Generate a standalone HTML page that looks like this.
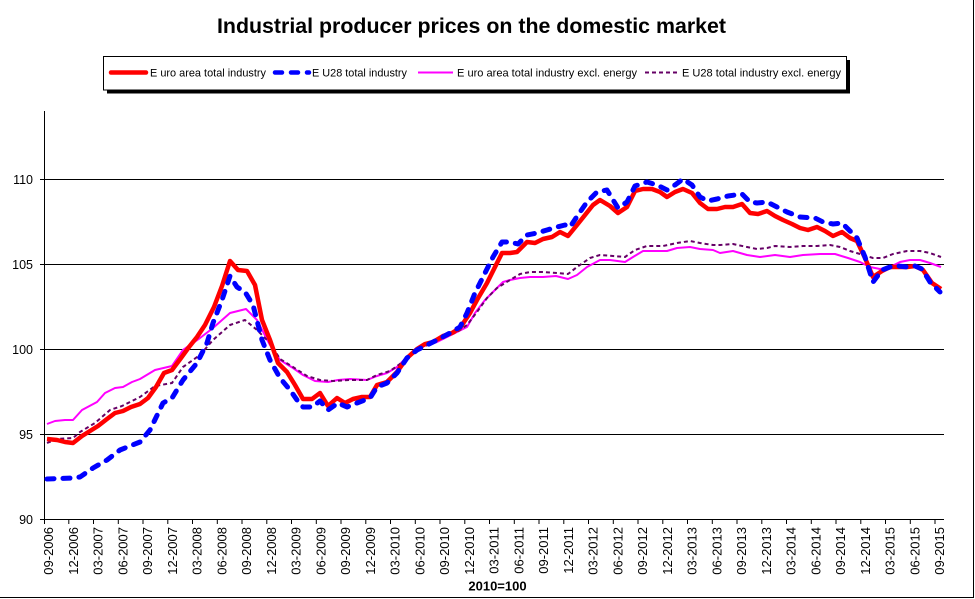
<!DOCTYPE html>
<html>
<head>
<meta charset="utf-8">
<style>
html,body{margin:0;padding:0;background:#fff;}
svg{display:block;}
text{font-family:"Liberation Sans",Arial,sans-serif;fill:#000;}
</style>
</head>
<body>
<svg width="975" height="599" viewBox="0 0 975 599" xmlns="http://www.w3.org/2000/svg">
<rect x="0" y="0" width="975" height="599" fill="#fff"/>
<!-- frame -->
<line x1="973.5" y1="0" x2="973.5" y2="598" stroke="#000" stroke-width="1"/>
<line x1="0" y1="597.5" x2="974" y2="597.5" stroke="#000" stroke-width="1"/>

<!-- title -->
<text x="217" y="33" font-size="21" font-weight="bold" textLength="509" lengthAdjust="spacingAndGlyphs">Industrial  producer prices on the domestic market</text>

<!-- legend -->
<rect x="107" y="60" width="743" height="33.5" fill="#000"/>
<rect x="103.5" y="56.5" width="743" height="33.5" fill="#fff" stroke="#000" stroke-width="1"/>
<line x1="111" y1="72.5" x2="146" y2="72.5" stroke="#ff0000" stroke-width="4.5" stroke-linecap="round"/>
<text x="150" y="76.5" font-size="11" textLength="116" lengthAdjust="spacingAndGlyphs">E uro area total industry</text>
<line x1="275" y1="72.5" x2="309" y2="72.5" stroke="#0000ff" stroke-width="4.5" stroke-linecap="round" stroke-dasharray="7 9"/>
<text x="312" y="76.5" font-size="11" textLength="95" lengthAdjust="spacingAndGlyphs">E U28 total industry</text>
<line x1="418" y1="72.5" x2="453" y2="72.5" stroke="#ff00ff" stroke-width="2"/>
<text x="457" y="76.5" font-size="11" textLength="180" lengthAdjust="spacingAndGlyphs">E uro area total industry excl. energy</text>
<line x1="645" y1="72.5" x2="680" y2="72.5" stroke="#660066" stroke-width="2" stroke-dasharray="4 3"/>
<text x="682" y="76.5" font-size="11" textLength="159" lengthAdjust="spacingAndGlyphs">E U28 total industry excl. energy</text>

<!-- gridlines -->
<g stroke="#000" stroke-width="1">
<line x1="40" y1="434.5" x2="944" y2="434.5"/>
<line x1="40" y1="349.5" x2="944" y2="349.5"/>
<line x1="40" y1="264.5" x2="944" y2="264.5"/>
<line x1="40" y1="179.5" x2="944" y2="179.5"/>
<line x1="40" y1="519.5" x2="944" y2="519.5"/>
<line x1="44.5" y1="111" x2="44.5" y2="520"/>
</g>

<!-- x ticks -->
<g stroke="#000" stroke-width="1">
<line x1="44.5" y1="519" x2="44.5" y2="524"/><line x1="68.8" y1="519" x2="68.8" y2="524"/><line x1="93.5" y1="519" x2="93.5" y2="524"/><line x1="118.3" y1="519" x2="118.3" y2="524"/><line x1="143" y1="519" x2="143" y2="524"/><line x1="167.8" y1="519" x2="167.8" y2="524"/><line x1="192.5" y1="519" x2="192.5" y2="524"/><line x1="217.3" y1="519" x2="217.3" y2="524"/><line x1="242" y1="519" x2="242" y2="524"/><line x1="266.8" y1="519" x2="266.8" y2="524"/><line x1="291.5" y1="519" x2="291.5" y2="524"/><line x1="316.3" y1="519" x2="316.3" y2="524"/><line x1="341" y1="519" x2="341" y2="524"/><line x1="365.8" y1="519" x2="365.8" y2="524"/><line x1="390.5" y1="519" x2="390.5" y2="524"/><line x1="415.3" y1="519" x2="415.3" y2="524"/><line x1="440" y1="519" x2="440" y2="524"/><line x1="464.8" y1="519" x2="464.8" y2="524"/><line x1="489.5" y1="519" x2="489.5" y2="524"/><line x1="514.3" y1="519" x2="514.3" y2="524"/><line x1="539" y1="519" x2="539" y2="524"/><line x1="563.8" y1="519" x2="563.8" y2="524"/><line x1="588.5" y1="519" x2="588.5" y2="524"/><line x1="613.3" y1="519" x2="613.3" y2="524"/><line x1="638" y1="519" x2="638" y2="524"/><line x1="662.8" y1="519" x2="662.8" y2="524"/><line x1="687.5" y1="519" x2="687.5" y2="524"/><line x1="712.3" y1="519" x2="712.3" y2="524"/><line x1="737" y1="519" x2="737" y2="524"/><line x1="761.8" y1="519" x2="761.8" y2="524"/><line x1="786.5" y1="519" x2="786.5" y2="524"/><line x1="811.3" y1="519" x2="811.3" y2="524"/><line x1="836" y1="519" x2="836" y2="524"/><line x1="860.8" y1="519" x2="860.8" y2="524"/><line x1="885.5" y1="519" x2="885.5" y2="524"/><line x1="910.3" y1="519" x2="910.3" y2="524"/><line x1="935" y1="519" x2="935" y2="524"/>
</g>

<!-- y labels -->
<g font-size="12.5" text-anchor="end">
<text x="33" y="524">90</text>
<text x="33" y="439">95</text>
<text x="33" y="354">100</text>
<text x="33" y="269">105</text>
<text x="33" y="184">110</text>
</g>

<!-- x labels -->
<g font-size="13" text-anchor="end">
<text transform="translate(53,527) rotate(-90)">09-2006</text>
<text transform="translate(77.8,527) rotate(-90)">12-2006</text>
<text transform="translate(102.5,527) rotate(-90)">03-2007</text>
<text transform="translate(127.3,527) rotate(-90)">06-2007</text>
<text transform="translate(152,527) rotate(-90)">09-2007</text>
<text transform="translate(176.8,527) rotate(-90)">12-2007</text>
<text transform="translate(201.5,527) rotate(-90)">03-2008</text>
<text transform="translate(226.3,527) rotate(-90)">06-2008</text>
<text transform="translate(251,527) rotate(-90)">09-2008</text>
<text transform="translate(275.8,527) rotate(-90)">12-2008</text>
<text transform="translate(300.5,527) rotate(-90)">03-2009</text>
<text transform="translate(325.3,527) rotate(-90)">06-2009</text>
<text transform="translate(350,527) rotate(-90)">09-2009</text>
<text transform="translate(374.8,527) rotate(-90)">12-2009</text>
<text transform="translate(399.5,527) rotate(-90)">03-2010</text>
<text transform="translate(424.3,527) rotate(-90)">06-2010</text>
<text transform="translate(449,527) rotate(-90)">09-2010</text>
<text transform="translate(473.8,527) rotate(-90)">12-2010</text>
<text transform="translate(498.5,527) rotate(-90)">03-2011</text>
<text transform="translate(523.3,527) rotate(-90)">06-2011</text>
<text transform="translate(548,527) rotate(-90)">09-2011</text>
<text transform="translate(572.8,527) rotate(-90)">12-2011</text>
<text transform="translate(597.5,527) rotate(-90)">03-2012</text>
<text transform="translate(622.3,527) rotate(-90)">06-2012</text>
<text transform="translate(647,527) rotate(-90)">09-2012</text>
<text transform="translate(671.8,527) rotate(-90)">12-2012</text>
<text transform="translate(696.5,527) rotate(-90)">03-2013</text>
<text transform="translate(721.3,527) rotate(-90)">06-2013</text>
<text transform="translate(746,527) rotate(-90)">09-2013</text>
<text transform="translate(770.8,527) rotate(-90)">12-2013</text>
<text transform="translate(795.5,527) rotate(-90)">03-2014</text>
<text transform="translate(820.3,527) rotate(-90)">06-2014</text>
<text transform="translate(845,527) rotate(-90)">09-2014</text>
<text transform="translate(869.8,527) rotate(-90)">12-2014</text>
<text transform="translate(894.5,527) rotate(-90)">03-2015</text>
<text transform="translate(919.3,527) rotate(-90)">06-2015</text>
<text transform="translate(944,527) rotate(-90)">09-2015</text>
</g>

<text x="497.5" y="590.5" font-size="13" font-weight="bold" text-anchor="middle">2010=100</text>

<!-- series -->
<g fill="none" stroke-linejoin="round">
<polyline stroke="#ff00ff" stroke-width="2" points="47,424 55,421 65,420 73,420 82,410 97,402 105,393 115,388 123,387 132,382 140,379 155,370 172,366 183,350 200,338 213,328 230,313 246,309 257,320 270,345 280,360 293,368 303,375 315,381 328,382 338,380 350,379 367,380 377,376 387,373 397,367 407,357 417,349 427,345 437,342 447,337 457,332 467,327 475,313 485,300 495,290 503,282 510,280 520,278 530,277 543,277 556,276 568,279 577,275 587,267 600,260 610,260 625,262 633,257 643,251 657,251 667,251 677,248 690,247 700,249 713,250 720,253 733,251 747,255 760,257 775,255 790,257 803,255 820,254 835,254 848,258 860,262 870,267 880,269 890,267 900,262 910,260 920,260 930,263 941,267"/>
<polyline stroke="#660066" stroke-width="2" stroke-dasharray="4 3" points="47,443 57,439 73,438 80,432 95,423 110,410 122,406 140,397 155,386 172,383 183,367 200,355 213,340 230,325 245,320 257,330 270,343 280,359 293,367 307,376 320,380 333,381 350,380 367,380 377,375 390,371 400,364 410,355 420,348 430,344 443,338 457,332 467,325 477,312 487,298 497,288 510,280 520,274 530,272 543,272 557,273 568,274 577,267 590,258 600,255 613,256 625,257 635,250 647,246 663,246 677,243 690,241 700,243 713,245 720,245 733,244 747,247 757,249 767,248 775,246 790,247 803,246 817,246 830,245 840,247 850,251 860,254 873,258 883,258 893,254 907,251 920,251 930,253 941,257"/>
<polyline stroke="#ff0000" stroke-width="4.5" points="47,439 57,440 65,442 73,443 82,436 90,431 98,426 107,419 115,413 123,411 131,407 140,404 148,398 156,387 164,373 172,370 181,358 189,347 197,337 205,325 214,307 222,286 230,261 238,270 247,271 255,285 262,320 270,340 278,363 287,372 295,385 303,399 312,399 320,393 328,406 337,398 345,403 353,399 362,397 370,397 377,385 387,382 397,372 407,358 417,349 425,344 433,342 443,336 452,333 460,328 470,313 477,300 487,283 495,267 502,253 510,253 517,252 527,242 535,243 543,239 552,237 560,232 568,236 577,225 585,215 593,205 600,200 610,206 618,213 627,207 635,191 643,189 652,189 660,192 667,197 675,192 683,189 692,193 700,203 708,209 717,209 725,207 733,207 742,204 750,213 758,214 767,211 775,216 783,220 792,224 800,228 808,230 817,227 825,231 833,236 842,232 850,238 857,241 865,258 873,277 882,271 890,267 898,267 907,267 915,266 923,270 932,283 941,289"/>
<polyline stroke="#0000ff" stroke-width="5" stroke-linecap="round" stroke-dasharray="7 9" points="47,479 73,478 80,477 93,468 107,460 120,450 140,442 150,430 163,403 172,398 183,380 197,363 207,343 213,323 222,300 230,276 237,287 245,292 253,305 262,340 270,360 280,378 290,390 297,400 303,407 312,407 320,401 328,410 338,403 347,407 357,403 370,398 377,387 387,383 397,373 407,358 417,350 427,345 437,340 450,333 460,327 467,313 475,293 485,273 493,257 502,242 510,242 518,244 527,235 537,233 547,230 557,227 565,225 570,227 578,215 587,202 597,192 607,190 618,208 627,202 635,186 647,182 657,185 667,190 675,185 683,179 692,185 700,197 708,201 717,199 728,196 742,194 750,202 757,203 767,202 777,207 787,212 800,217 815,218 823,222 833,224 842,223 850,231 857,238 865,257 873,282 882,270 890,267 898,266 907,267 915,266 922,269 930,282 940,292"/>
</g>
</svg>
</body>
</html>
